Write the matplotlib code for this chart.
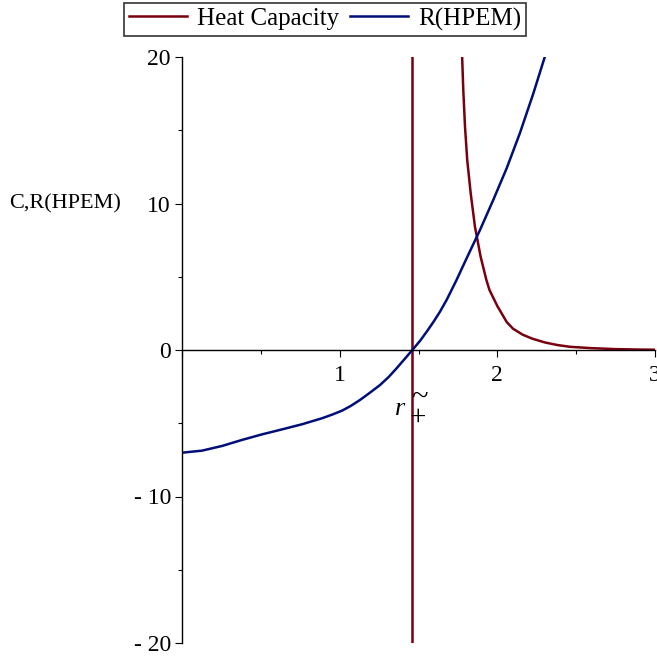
import numpy as np
import matplotlib
matplotlib.use("Agg")
import matplotlib.pyplot as plt
from matplotlib.ticker import MultipleLocator, FuncFormatter

# values
r_plus = 1.461

r_ricci = [0.0, 0.127, 0.254, 0.38, 0.507, 0.634, 0.761, 0.888, 0.95, 1.015, 1.07, 1.129,
           1.19, 1.256, 1.31, 1.361, 1.41, 1.461, 1.51, 1.552, 1.595, 1.636, 1.678, 1.74,
           1.80, 1.89, 1.974, 2.059, 2.143, 2.228, 2.308, 2.33]
ricci = [-7.01, -6.87, -6.55, -6.14, -5.76, -5.42, -5.07, -4.66, -4.42, -4.14, -3.82, -3.41,
         -2.93, -2.39, -1.85, -1.25, -0.64, 0.0, 0.63, 1.25, 1.92, 2.61, 3.41, 4.75,
         6.14, 8.19, 10.24, 12.4, 14.8, 17.5, 20.25, 21.0]

r_heat = [1.774, 1.776, 1.784, 1.795, 1.809, 1.831, 1.858, 1.894, 1.93, 1.95, 2.00,
          2.06, 2.10, 2.16, 2.22, 2.30, 2.38, 2.46, 2.59, 2.75, 2.90, 3.0]
heat = [21.0, 20.25, 17.75, 15.24, 12.97, 10.7, 8.42, 6.37, 4.8, 4.1, 3.0,
        1.9, 1.45, 1.05, 0.78, 0.52, 0.34, 0.22, 0.13, 0.06, 0.03, 0.02]

RED = "#78000e"
BLUE = "#000e78"

plt.rcParams["font.family"] = ["Liberation Serif", "DejaVu Serif"]
plt.rcParams["axes.unicode_minus"] = False

fig = plt.figure(figsize=(6.57, 6.60), dpi=100)
ax = fig.add_axes([182 / 657, 1 - 643 / 660, (655 - 182) / 657, (643 - 57) / 660])

ax.plot(r_heat, heat, color=RED, lw=1.8, solid_joinstyle="round", label="Heat Capacity")
ax.axvline(r_plus, color=RED, lw=1.8)
ax.plot(r_ricci, ricci, color=BLUE, lw=1.8, solid_joinstyle="round", label="R(HPEM)")

ax.set_xlim(0, 3)
ax.set_ylim(-20, 20)

for s in ("top", "right"):
    ax.spines[s].set_visible(False)
ax.spines["bottom"].set_position(("data", 0))
ax.spines["left"].set_position(("data", 0))
ax.spines["left"].set_linewidth(1.0)
ax.spines["bottom"].set_linewidth(1.0)

ax.xaxis.set_major_locator(MultipleLocator(1))
ax.xaxis.set_minor_locator(MultipleLocator(0.5))
ax.yaxis.set_major_locator(MultipleLocator(10))
ax.yaxis.set_minor_locator(MultipleLocator(5))
ax.xaxis.set_major_formatter(FuncFormatter(lambda v, p: "" if v == 0 else f"{v:.0f}"))
ax.yaxis.set_major_formatter(FuncFormatter(lambda v, p: f"{v:.0f}".replace("-", "- ")))
ax.tick_params(axis="both", which="major", length=5, width=0.8, labelsize=17, direction="out")
ax.tick_params(axis="both", which="minor", length=3, width=0.8, direction="out")
ax.tick_params(axis="x", pad=6)
ax.tick_params(axis="y", pad=3)

ax.text(-0.742, 10, "C,R(HPEM)", fontsize=16, ha="center", va="center")
# r with a stacked tilde and plus as subscript
ax.text(1.385, -4.03, "r", fontsize=19, style="italic", ha="center", va="center")
ax.text(1.503, -3.25, "~", fontsize=22, ha="center", va="center")
ax.text(1.492, -4.6, "+", fontsize=21, ha="center", va="center")

leg = fig.legend(loc="upper center", bbox_to_anchor=(0.495, 1.0), ncol=2, fontsize=18,
                 frameon=True, fancybox=False, edgecolor="black", handlelength=2.3,
                 columnspacing=0.45, handletextpad=0.4, borderpad=0.2, borderaxespad=0.1)
leg.get_frame().set_linewidth(1.2)

fig.savefig("out.png", dpi=100)
